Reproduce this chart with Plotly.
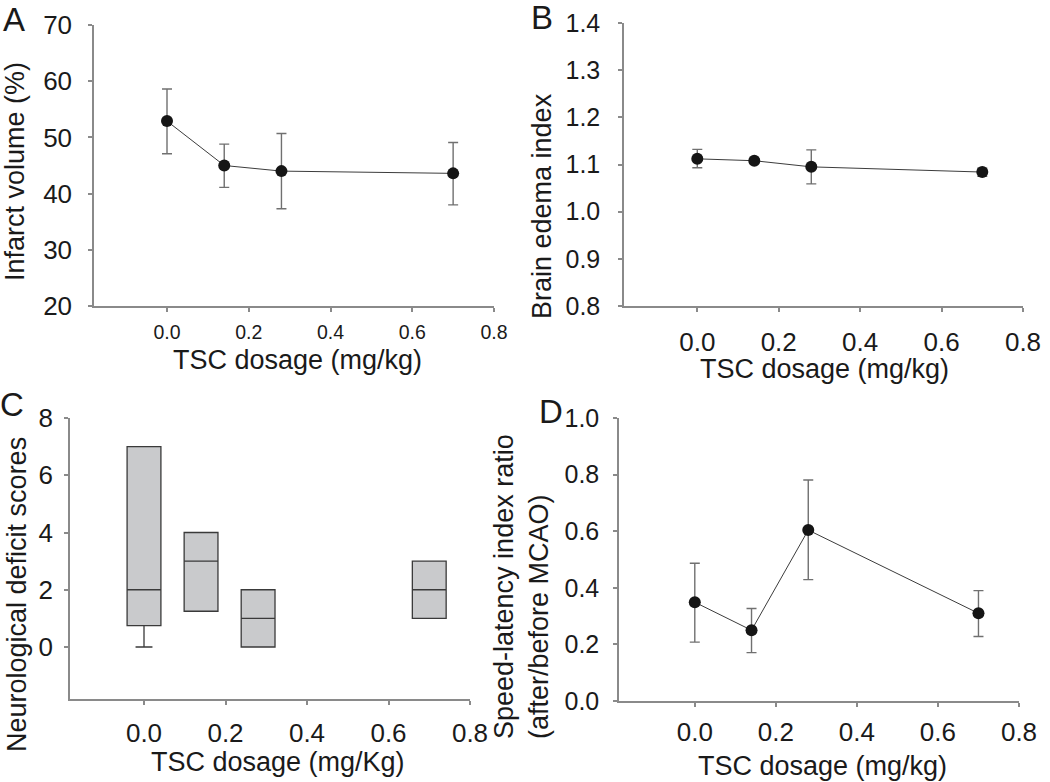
import plotly.graph_objects as go

W, H = 1050, 782

# dose groups (mg/kg)
dose = [0.0, 0.14, 0.28, 0.7]

# A: infarct volume (%)
infarct = [52.9, 45.0, 44.0, 43.6]
infarct_hi = [58.6, 48.8, 50.7, 49.1]
infarct_lo = [47.1, 41.1, 37.3, 38.0]

# B: brain edema index
edema = [1.112, 1.108, 1.095, 1.084]
edema_hi = [1.132, 1.113, 1.131, 1.092]
edema_lo = [1.093, 1.102, 1.059, 1.075]

# C: neurological deficit scores (box summary)
nds_min = [0, 1.25, 0, 1]
nds_q1 = [0.75, 1.25, 0, 1]
nds_med = [2, 3, 1, 2]
nds_q3 = [7, 4, 2, 3]
nds_max = [7, 4, 2, 3]

# D: speed-latency index ratio
speed = [0.349, 0.25, 0.604, 0.31]
speed_hi = [0.487, 0.327, 0.781, 0.39]
speed_lo = [0.208, 0.171, 0.429, 0.228]

FONT = "Liberation Sans, Arial, sans-serif"
TXT = "#1a1a1a"
AX = "#8a8a8a"


def px_x(p):
    return p / W


def px_y(p):
    return 1 - p / H


def err_trace(x, y, hi, lo, xa, ya):
    return go.Scatter(
        x=x, y=y, xaxis=xa, yaxis=ya,
        mode="lines+markers",
        line=dict(color="#3c3c3c", width=1),
        marker=dict(color="#151515", size=12),
        error_y=dict(type="data", symmetric=False,
                     array=[h - v for h, v in zip(hi, y)],
                     arrayminus=[v - l for v, l in zip(y, lo)],
                     color="#707070", thickness=1.4, width=5),
        hoverinfo="x+y",
    )


fig = go.Figure()
fig.add_trace(err_trace(dose, infarct, infarct_hi, infarct_lo, "x", "y"))
fig.add_trace(err_trace(dose, edema, edema_hi, edema_lo, "x2", "y2"))
fig.add_trace(go.Box(
    x=dose, q1=nds_q1, median=nds_med, q3=nds_q3,
    lowerfence=nds_min, upperfence=nds_max,
    xaxis="x3", yaxis="y3",
    width=0.083, whiskerwidth=0.5, boxpoints=False,
    fillcolor="#c9cacc", line=dict(color="#3a3a3a", width=1.3),
))
fig.add_trace(err_trace(dose, speed, speed_hi, speed_lo, "x4", "y4"))


def xax(dom, rng, size, standoff, anchor):
    return dict(domain=[px_x(dom[0]), px_x(dom[1])], range=rng, anchor=anchor,
                tickvals=[0, 0.2, 0.4, 0.6, 0.8], tickformat=".1f",
                showline=True, linecolor=AX, linewidth=1.5,
                ticks="outside", ticklen=4, tickcolor=AX, tickwidth=1.5,
                showgrid=False, zeroline=False, automargin=False,
                tickfont=dict(family=FONT, size=size, color=TXT),
                ticklabelstandoff=standoff)


def yax(dom, rng, tickvals, fmt, size, standoff, anchor):
    return dict(domain=[px_y(dom[1]), px_y(dom[0])], range=rng, anchor=anchor,
                tickvals=tickvals, tickformat=fmt,
                showline=True, linecolor=AX, linewidth=1.5,
                ticks="outside", ticklen=4, tickcolor=AX, tickwidth=1.5,
                showgrid=False, zeroline=False, automargin=False,
                tickfont=dict(family=FONT, size=size, color=TXT),
                ticklabelstandoff=standoff)


fig.update_layout(
    width=W, height=H,
    margin=dict(l=0, r=0, t=0, b=0, pad=0),
    paper_bgcolor="white", plot_bgcolor="white",
    showlegend=False,
    font=dict(family=FONT, color=TXT),
    xaxis=xax((94, 494), [-0.1786, 0.8], 19.5, 4, "y"),
    yaxis=yax((25, 306), [20, 70], [20, 30, 40, 50, 60, 70], "d", 26, 11, "x"),
    xaxis2=xax((624, 1023), [-0.18, 0.8], 26, 8, "y2"),
    yaxis2=yax((23, 306), [0.8, 1.4], [0.8, 0.9, 1.0, 1.1, 1.2, 1.3, 1.4], ".1f", 25, 13, "x2"),
    xaxis3=xax((70, 470), [-0.1816, 0.8], 26, 6, "y3"),
    yaxis3=yax((418, 699), [-1.816, 8], [0, 2, 4, 6, 8], "d", 26, 6, "x3"),
    xaxis4=xax((619, 1019), [-0.187, 0.8], 26, 3, "y4"),
    yaxis4=yax((418, 701), [0, 1.0], [0, 0.2, 0.4, 0.6, 0.8, 1.0], ".1f", 25, 9, "x4"),
)

labels = [
    # text, x px, y px, angle, size
    ("A", 14, 20, 0, 33),
    ("B", 542, 18, 0, 33),
    ("C", 12, 404, 0, 33),
    ("D", 551, 411, 0, 33),
    ("TSC dosage (mg/kg)", 297, 360, 0, 27),
    ("TSC dosage (mg/kg)", 824, 369, 0, 27),
    ("TSC dosage (mg/Kg)", 278, 762, 0, 27),
    ("TSC dosage (mg/kg)", 822, 766, 0, 27),
    ("Infarct volume (%)", 15, 172, -90, 27),
    ("Brain edema index", 542, 206, -90, 27),
    ("Neurological deficit scores", 17, 595, -90, 27),
]
ann = []
for text, x, y, ang, size in labels:
    ann.append(dict(text=text, x=px_x(x), y=px_y(y), xref="paper", yref="paper",
                    xanchor="center", yanchor="middle", textangle=ang,
                    showarrow=False, font=dict(family=FONT, size=size, color=TXT)))
ann.append(dict(text="Speed-latency index ratio<br>(after/before MCAO)",
                x=px_x(521), y=px_y(587), xref="paper", yref="paper",
                xanchor="center", yanchor="middle", textangle=-90, align="left",
                showarrow=False, font=dict(family=FONT, size=27, color=TXT)))
fig.update_layout(annotations=ann)

# the page's default body margin would shift the figure by 8px
fig.write_html("out.html", config={"displayModeBar": False},
               post_script="document.body.style.margin='0';")
